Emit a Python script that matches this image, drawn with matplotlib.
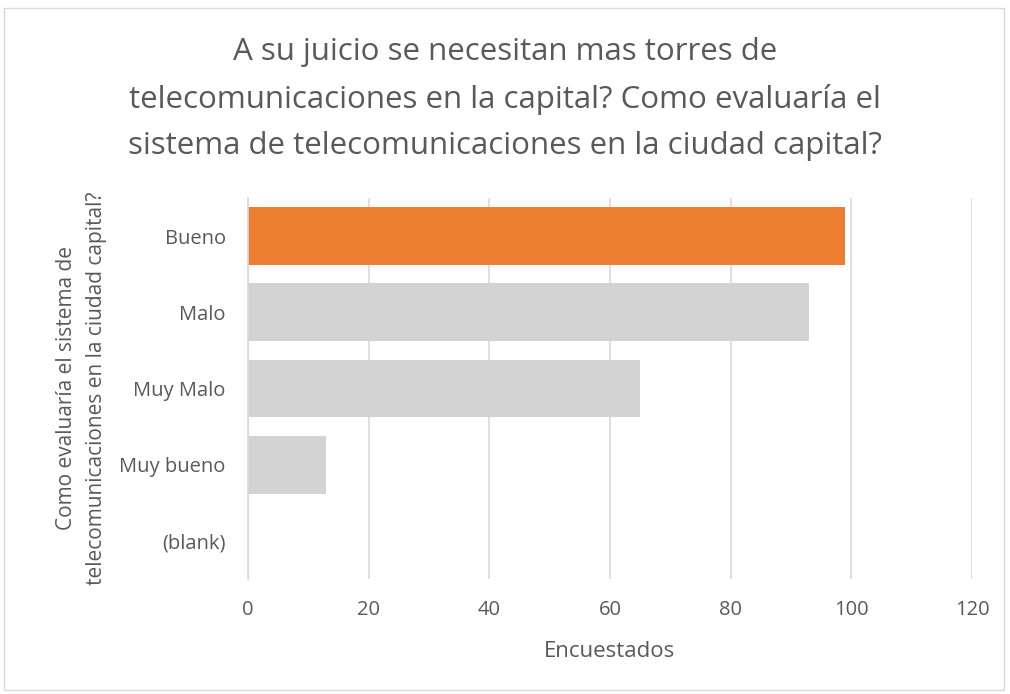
import matplotlib.pyplot as plt
from matplotlib.patches import Rectangle

categories = ['Bueno', 'Malo', 'Muy Malo', 'Muy bueno', '(blank)']
values = [99, 93, 65, 13, 0]
colors = ['#ED7D31', '#D3D3D3', '#D3D3D3', '#D3D3D3', '#D3D3D3']
xticks = [0, 20, 40, 60, 80, 100, 120]

title = ('A su juicio se necesitan mas torres de\n'
         'telecomunicaciones en la capital? Como evaluaría el\n'
         'sistema de telecomunicaciones en la ciudad capital?')
ylabel = 'Como evaluaría el sistema de\ntelecomunicaciones en la ciudad capital?'

plt.rcParams['font.family'] = ['Open Sans', 'DejaVu Sans']
txt = '#595959'

fig = plt.figure(figsize=(10.1, 6.94), dpi=100)
ax = fig.add_axes([248 / 1010, 1 - 579 / 694, 724 / 1010, 381 / 694])

ypos = list(range(len(categories)))
ax.barh(ypos, values, height=0.76, color=colors, zorder=2)
ax.set_ylim(len(categories) - 0.5, -0.5)
ax.set_xlim(0, 120)
ax.set_xticks(xticks)
ax.set_yticks(ypos)
ax.set_yticklabels(categories)
ax.tick_params(length=0, colors=txt, labelsize=14.5)
ax.tick_params(axis='x', pad=15)
ax.tick_params(axis='y', pad=16)
ax.grid(axis='x', color='#D9D9D9', linewidth=1.2, zorder=0)
for s in ['top', 'right', 'bottom']:
    ax.spines[s].set_visible(False)
ax.spines['left'].set_color('#D9D9D9')
ax.spines['left'].set_linewidth(1.2)

ax.set_xlabel('Encuestados', color=txt, fontsize=16, labelpad=15)
ax.set_ylabel(ylabel, color=txt, fontsize=15, labelpad=9, linespacing=1.55)

fig.text(0.5, 0.946, title, ha='center', va='top', fontsize=22.5,
         color=txt, linespacing=1.7)

fig.patches.append(Rectangle((0.004, 0.006), 0.99, 0.983, transform=fig.transFigure,
                             fill=False, edgecolor='#D9D9D9', linewidth=1))

plt.savefig('out.png', dpi=100)
